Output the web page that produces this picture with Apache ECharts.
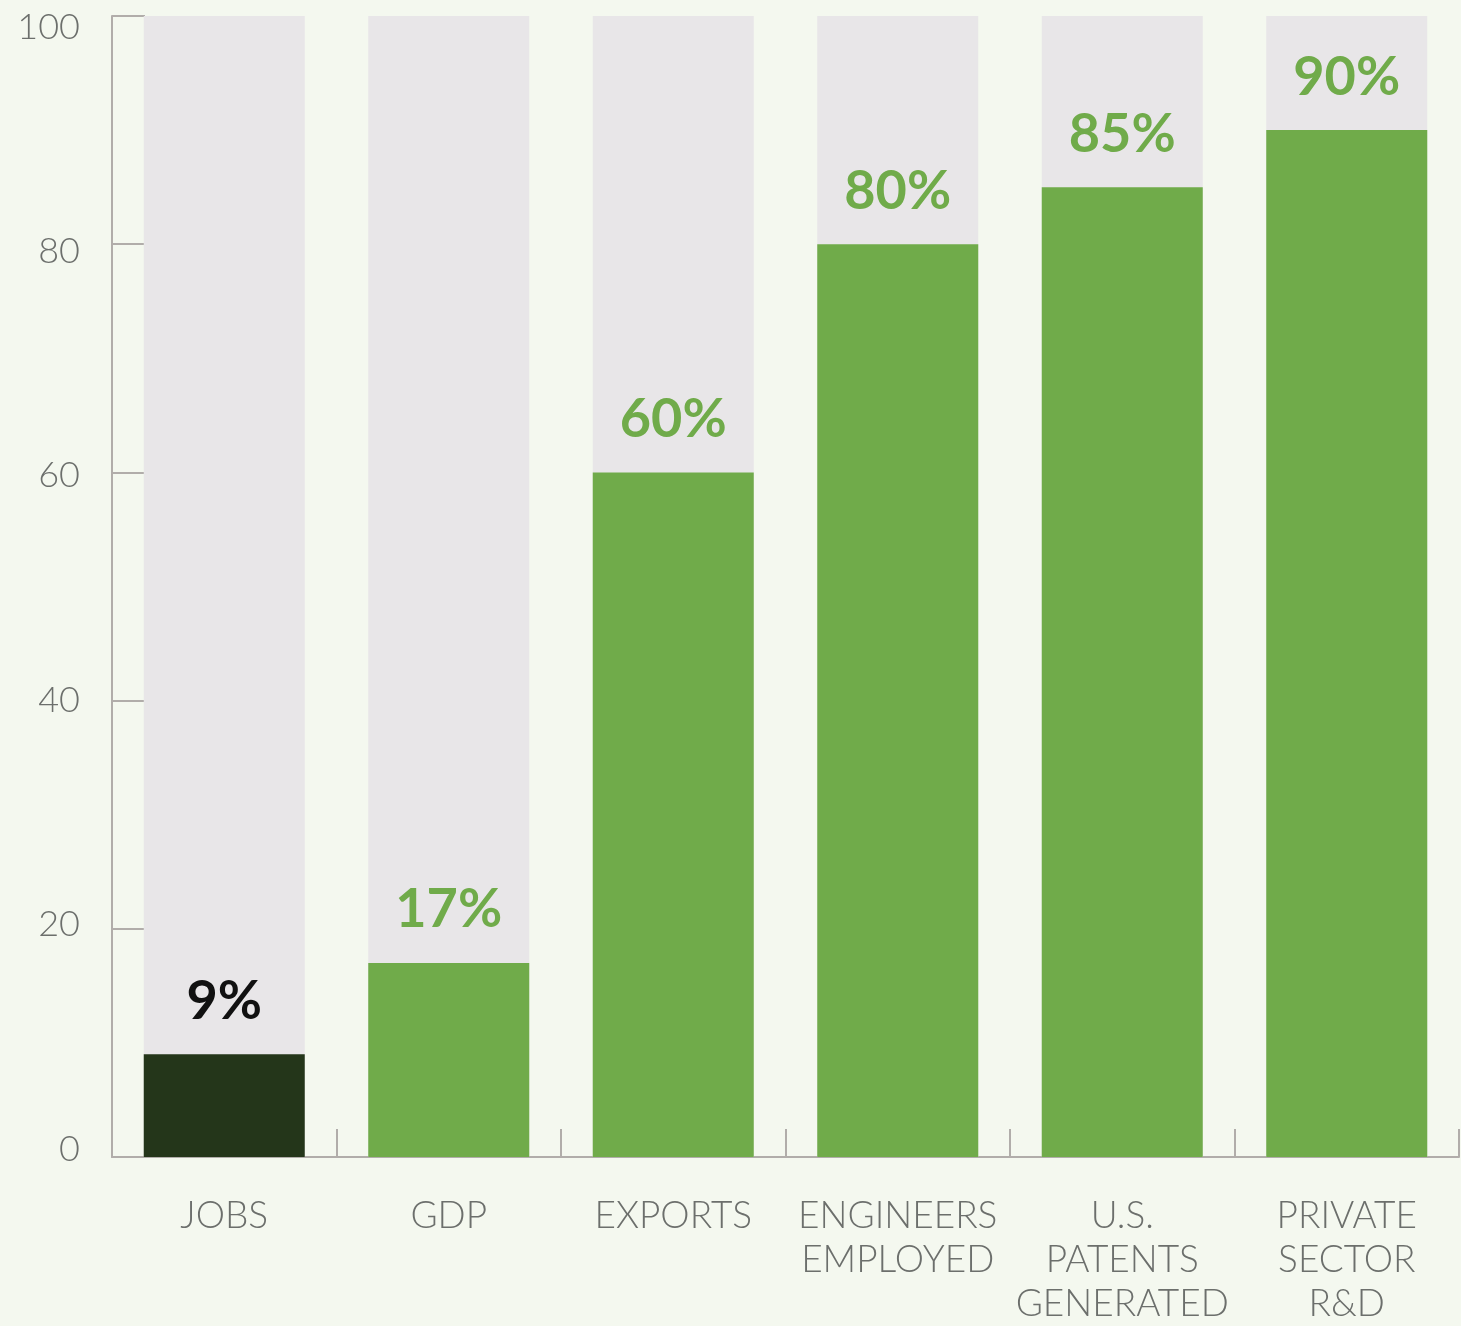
<!DOCTYPE html>
<html>
<head>
<meta charset="utf-8">
<script src="https://cdn.jsdelivr.net/npm/echarts@6/dist/echarts.min.js"></script>
<style>
  html, body { margin: 0; padding: 0; background: #f4f8ef; }
  #chart { width: 1461px; height: 1326px; }
</style>
</head>
<body>
<div id="chart"></div>
<script>
// Share of activity, by measure (percent)
const categories = ['JOBS', 'GDP', 'EXPORTS', 'ENGINEERS\nEMPLOYED', 'U.S.\nPATENTS\nGENERATED', 'PRIVATE\nSECTOR\nR&D'];
const shareValues = [9, 17, 60, 80, 85, 90];
const yTickLabels = [0, 20, 40, 60, 80, 100];

const GREEN = '#70ab4a';
const DARK = '#24361a';
const AXIS = '#b1adaa';
const TEXT = '#6c6f6c';

const chart = echarts.init(document.getElementById('chart'), null, { renderer: 'canvas' });

const barData = shareValues.map((v, i) => ({
  value: v,
  itemStyle: { color: i === 0 ? DARK : GREEN },
  label: { color: i === 0 ? '#111111' : GREEN }
}));

chart.setOption({
  backgroundColor: '#f4f8ef',
  animation: false,
  grid: { left: 112, right: 2, top: 16, bottom: 164 },
  xAxis: {
    type: 'category',
    data: categories,
    axisLine: { lineStyle: { color: AXIS, width: 2 } },
    axisTick: { show: true, inside: true, length: 28, lineStyle: { color: AXIS, width: 2 } },
    axisLabel: {
      color: TEXT,
      fontFamily: 'Lato',
      fontWeight: 300,
      fontSize: 37,
      lineHeight: 44,
      margin: 37,
      interval: 0
    }
  },
  yAxis: [
    {
      type: 'value',
      min: 0,
      max: 100,
      interval: 20,
      axisLine: { show: true, lineStyle: { color: AXIS, width: 2 } },
      axisTick: { show: true, inside: true, length: 33, lineStyle: { color: AXIS, width: 2 } },
      axisLabel: { show: false },
      splitLine: { show: false }
    },
    {
      // label-only axis with slightly tighter spacing for the tick numbers
      type: 'value',
      position: 'left',
      min: -0.71,
      max: 100.98,
      axisLine: { show: false },
      axisTick: { show: false },
      splitLine: { show: false },
      axisLabel: {
        customValues: yTickLabels,
        color: TEXT,
        fontFamily: 'Lato',
        fontWeight: 300,
        fontSize: 36,
        margin: 32,
        formatter: v => String(Math.round(v))
      }
    }
  ],
  series: [
    {
      type: 'bar',
      yAxisIndex: 0,
      data: barData,
      barWidth: 161,
      showBackground: true,
      backgroundStyle: { color: '#e8e6e8' },
      label: {
        show: true,
        position: 'top',
        distance: 26,
        formatter: '{c}%',
        fontFamily: 'Lato',
        fontWeight: 'bold',
        fontSize: 54
      }
    }
  ]
});
</script>
</body>
</html>
